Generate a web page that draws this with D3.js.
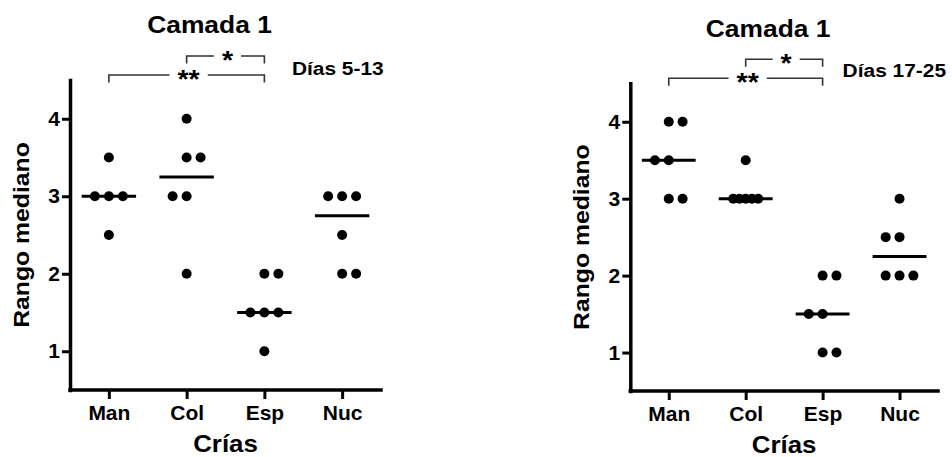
<!DOCTYPE html>
<html>
<head>
<meta charset="utf-8">
<script src="https://cdn.jsdelivr.net/npm/d3@7"></script>
<style>
  html, body { margin: 0; padding: 0; background: #fff; }
  svg { display: block; }
</style>
</head>
<body>
<script>
// ---------- data ----------
const categories = ["Man", "Col", "Esp", "Nuc"];
const yTicks = [1, 2, 3, 4];
const yDomain = [0.5, 4.5];
const chartTitle = "Camada 1";
const xTitle = "Crías";
const yTitle = "Rango mediano";
const periodLabels = ["Días 5-13", "Días 17-25"];

// Días 5-13: values per category
const earlyValues = [
  [3.5, 3, 3, 3, 2.5],
  [4, 3.5, 3.5, 3, 3, 2],
  [2, 2, 1.5, 1.5, 1.5, 1],
  [3, 3, 3, 2.5, 2, 2]
];
// horizontal spread slot of each point
const earlySlots = [
  [0, -1, 0, 1, 0],
  [0, 0, 1, -1, 0, 0],
  [0, 1, -1, 0, 1, 0],
  [-1, 0, 1, 0, 0, 1]
];

// Días 17-25
const lateValues = [
  [4, 4, 3.5, 3.5, 3, 3],
  [3.5, 3, 3, 3, 3, 3],
  [2, 2, 1.5, 1.5, 1, 1],
  [3, 2.5, 2.5, 2, 2, 2]
];
const lateSlots = [
  [0, 1, -1, 0, 0, 1],
  [0, -0.9, -0.45, 0, 0.45, 0.9],
  [0, 1, -1, 0, 0, 1],
  [0, -1, 0, -1, 0, 1]
];

// significance comparisons
const comparisons = [
  { a: "Man", b: "Esp", label: "**", level: 0 },
  { a: "Col", b: "Esp", label: "*", level: 1 }
];

// ---------- layout ----------
const W = 952, H = 457;
const SX = 1.1; // horizontal text widening seen in the reference
const FONT = "'Liberation Sans', Arial, Helvetica, sans-serif";

const panels = [
  { x0: 70, x1: 381, y0: 80, y1: 390, values: earlyValues, slots: earlySlots,
    period: periodLabels[0], periodDx: 27.5, periodDy: -5 },
  { x0: 630.3, x1: 938, y0: 83.3, y1: 391, values: lateValues, slots: lateSlots,
    period: periodLabels[1], periodDx: 20, periodDy: -6.6 }
];

const svg = d3.select("body").append("svg")
  .attr("width", W).attr("height", H)
  .attr("viewBox", `0 0 ${W} ${H}`);

function addText(parent, str, x, y, size, anchor, rotate) {
  return parent.append("text")
    .attr("transform", `translate(${x},${y})${rotate ? " rotate(-90)" : ""} scale(${SX},1)`)
    .attr("text-anchor", anchor)
    .attr("fill", "#000")
    .style("font-family", FONT)
    .style("font-weight", "bold")
    .style("font-size", size + "px")
    .text(str);
}

panels.forEach(p => {
  const g = svg.append("g");
  const x = d3.scalePoint().domain(categories).range([p.x0, p.x1]).padding(0.5);
  const y = d3.scaleLinear().domain(yDomain).range([p.y1, p.y0]);
  const slotW = x.step() * 0.18;
  const halfMed = x.step() * 0.35;

  // median lines
  g.append("g").selectAll("line")
    .data(categories.map((c, i) => ({ c, m: d3.median(p.values[i]) })))
    .join("line")
    .attr("x1", d => x(d.c) - halfMed)
    .attr("x2", d => x(d.c) + halfMed)
    .attr("y1", d => y(d.m))
    .attr("y2", d => y(d.m))
    .attr("stroke", "#000")
    .attr("stroke-width", 3);

  // dots
  const pts = [];
  categories.forEach((c, i) => {
    p.values[i].forEach((v, j) => pts.push({ c, v, s: p.slots[i][j] }));
  });
  g.append("g").selectAll("circle")
    .data(pts)
    .join("circle")
    .attr("cx", d => x(d.c) + d.s * slotW)
    .attr("cy", d => y(d.v))
    .attr("r", 5)
    .attr("fill", "#000");

  // y axis
  const ya = g.append("g")
    .attr("transform", `translate(${p.x0},0)`)
    .call(d3.axisLeft(y).tickValues(yTicks).tickFormat(d3.format("d"))
      .tickSize(8).tickSizeOuter(0).tickPadding(2));
  // x axis
  const xa = g.append("g")
    .attr("transform", `translate(0,${p.y1})`)
    .call(d3.axisBottom(x).tickSize(9).tickSizeOuter(0).tickPadding(6));
  xa.select(".domain").attr("d", `M${p.x0},0H${p.x1}`);

  [ya, xa].forEach(a => {
    a.select(".domain").attr("stroke", "#000").attr("stroke-width", 3.5)
      .attr("stroke-linecap", "square");
    a.selectAll(".tick line").attr("stroke", "#000").attr("stroke-width", 3);
    a.selectAll(".tick text")
      .attr("fill", "#000")
      .style("font-family", FONT)
      .style("font-weight", "bold")
      .style("font-size", "21px");
  });

  // titles
  addText(g, chartTitle, (p.x0 + p.x1) / 2 - 16, p.y0 - 46.7, 24, "middle");
  addText(g, xTitle, (p.x0 + p.x1) / 2, p.y1 + 61.5, 23.5, "middle");
  addText(g, yTitle, p.x0 - 41, (p.y0 + p.y1) / 2, 22.5, "middle", true);
  addText(g, p.period, x("Esp") + p.periodDx, p.y0 + p.periodDy, 19, "start");

  // significance brackets
  comparisons.forEach(cmp => {
    const xa1 = x(cmp.a), xb1 = x(cmp.b);
    const ly = p.y0 - 5 - cmp.level * 19;
    const drop = 7.5;
    const mid = (xa1 + xb1) / 2 + 2;
    const t = addText(g, cmp.label, mid, ly + 13, 26, "middle");
    const tw = t.node().getComputedTextLength() * SX;
    const gap = tw / 2 + 8;
    const bg = g.append("g").attr("fill", "none").attr("stroke", "#333").attr("stroke-width", 1.6);
    bg.append("path").attr("d", `M${xa1},${ly + drop}V${ly}H${mid - gap}`);
    bg.append("path").attr("d", `M${mid + gap},${ly}H${xb1}V${ly + drop}`);
  });
});
</script>
</body>
</html>
